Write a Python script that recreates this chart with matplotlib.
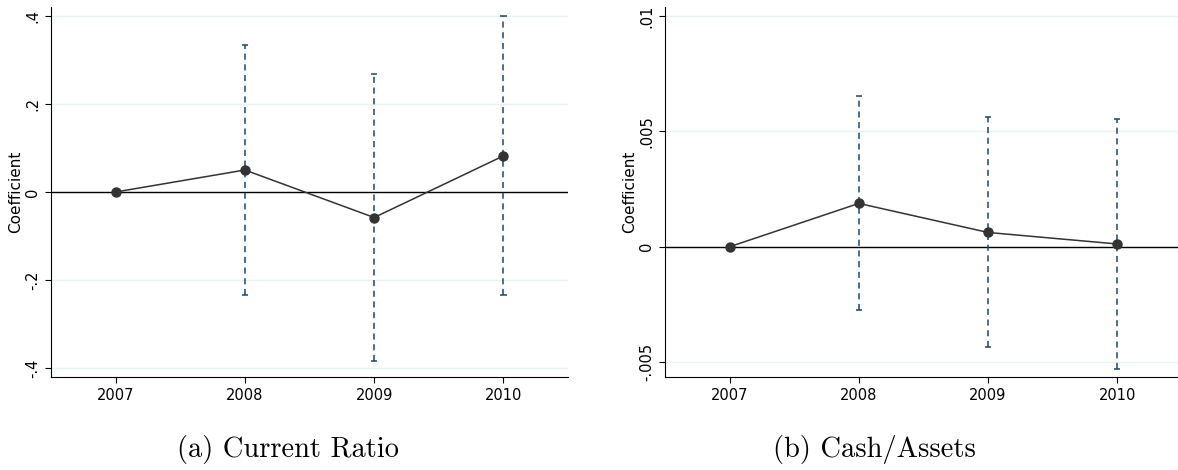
import numpy as np
import matplotlib
matplotlib.use("Agg")
import matplotlib.pyplot as plt

# 数据: 年份与系数估计、置信区间
years = [2007, 2008, 2009, 2010]

cr_coef = [0.0, 0.050, -0.058, 0.082]
cr_low = [0.0, -0.234, -0.383, -0.235]
cr_high = [0.0, 0.334, 0.268, 0.399]
cr_ticks = [-0.4, -0.2, 0, 0.2, 0.4]
cr_ticklabels = ["-.4", "-.2", "0", ".2", ".4"]

cash_coef = [0.0, 0.00188, 0.00062, 0.00012]
cash_low = [0.0, -0.00273, -0.00435, -0.0053]
cash_high = [0.0, 0.00652, 0.00565, 0.00552]
cash_ticks = [-0.005, 0, 0.005, 0.01]
cash_ticklabels = ["-.005", "0", ".005", ".01"]

captions = ["(a) Current Ratio", "(b) Cash/Assets"]

W, H = 1178, 470
fig = plt.figure(figsize=(W / 100, H / 100), dpi=100)

ci_color = "#1a476f"
pt_color = "#333333"
grid_color = "#eaf2f3"


def draw_panel(ax, coef, low, high, ticks, ticklabels, ylim, xlim):
    x = np.array(years)
    coef = np.array(coef)
    low = np.array(low)
    high = np.array(high)
    # 网格线
    for t in ticks:
        ax.axhline(t, color=grid_color, lw=1.0, zorder=0)
    ax.axhline(0, color="black", lw=1.0, zorder=1)
    # 置信区间 (2007 为基准年, 无区间)
    m = high != low
    ax.vlines(x[m], low[m], high[m], colors=ci_color, linestyles=(0, (4, 3)),
              lw=1.1, zorder=2)
    ax.hlines(np.concatenate([low[m], high[m]]),
              np.concatenate([x[m], x[m]]) - 0.025,
              np.concatenate([x[m], x[m]]) + 0.025,
              colors=ci_color, lw=1.1, zorder=2)
    ax.plot(x, coef, color=pt_color, lw=1.1, marker="o", ms=6.5, zorder=3)

    ax.set_xlim(*xlim)
    ax.set_ylim(*ylim)
    ax.set_xticks(years)
    ax.set_xticklabels([str(y) for y in years], fontsize=10.5)
    ax.set_yticks(ticks)
    ax.set_yticklabels(ticklabels, fontsize=10.5, rotation=90, va="center")
    ax.set_ylabel("Coefficient", fontsize=11)
    ax.spines["top"].set_visible(False)
    ax.spines["right"].set_visible(False)
    ax.tick_params(axis="both", length=4, width=0.8, pad=4)


ax1 = fig.add_axes([51 / W, 1 - 377 / H, 517 / W, 370 / H])
draw_panel(ax1, cr_coef, cr_low, cr_high, cr_ticks, cr_ticklabels,
           (-0.4205, 0.4205), (2006.5, 2010.5))
ax1.yaxis.set_label_coords(-0.054, 0.5)

ax2 = fig.add_axes([665 / W, 1 - 377 / H, 513 / W, 370 / H])
draw_panel(ax2, cash_coef, cash_low, cash_high, cash_ticks, cash_ticklabels,
           (-0.00565, 0.0104), (2006.5, 2010.47))
ax2.yaxis.set_label_coords(-0.055, 0.5)

fig.text(288 / W, 1 - 449 / H, captions[0], fontsize=20.5, family="cmr10",
         ha="center", va="center")
fig.text(874 / W, 1 - 449 / H, captions[1], fontsize=20.5, family="cmr10",
         ha="center", va="center")

fig.savefig("out.png", dpi=100)
